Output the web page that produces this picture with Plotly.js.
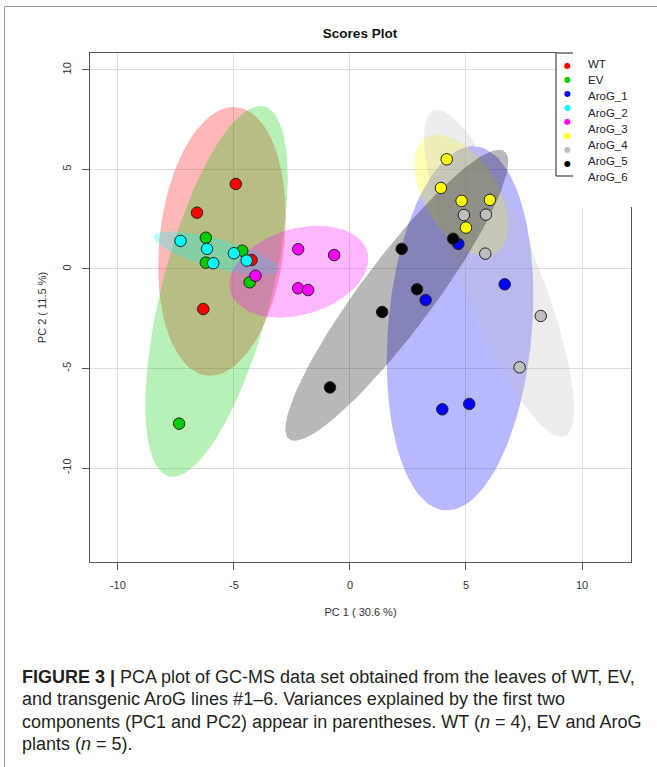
<!DOCTYPE html>
<html>
<head>
<meta charset="utf-8">
<script src="https://cdn.plot.ly/plotly-3.0.1.min.js"></script>
<style>
  html, body { margin: 0; padding: 0; background: #fff; }
  #chart { width: 657px; height: 767px; }
</style>
</head>
<body>
<div id="chart"></div>
<script>
// ---- data (PC1, PC2 scores) ----
const groupNames = ["WT", "EV", "AroG_1", "AroG_2", "AroG_3", "AroG_4", "AroG_5", "AroG_6"];

const WT_PC1 = [-4.92, -6.59, -4.24, -6.32];
const WT_PC2 = [4.27, 2.83, 0.45, -2.01];

const EV_PC1 = [-6.21, -6.21, -4.64, -4.32, -7.36];
const EV_PC2 = [1.57, 0.32, 0.92, -0.67, -7.77];

const AroG1_PC1 = [4.67, 3.26, 6.67, 5.14, 3.98];
const AroG1_PC2 = [1.26, -1.56, -0.77, -6.78, -7.05];

const AroG2_PC1 = [-7.30, -6.16, -5.89, -5.00, -4.45];
const AroG2_PC2 = [1.41, 1.01, 0.29, 0.79, 0.42];

const AroG3_PC1 = [-4.07, -2.23, -2.23, -1.80, -0.68];
const AroG3_PC2 = [-0.34, 0.99, -0.97, -1.06, 0.70];

const AroG4_PC1 = [4.17, 3.92, 4.81, 6.03, 5.00];
const AroG4_PC2 = [5.51, 4.07, 3.42, 3.47, 2.08];

const AroG5_PC1 = [4.91, 5.86, 5.83, 8.22, 7.31];
const AroG5_PC2 = [2.71, 2.73, 0.77, -2.36, -4.94];

const AroG6_PC1 = [4.45, 2.23, 2.89, 1.39, -0.86];
const AroG6_PC2 = [1.52, 1.01, -1.02, -2.16, -5.95];

const tickValues = [-10, -5, 0, 5, 10];
const tickLabels = ["-10", "-5", "0", "5", "10"];

const captionLines = [
  "<b>FIGURE 3 |</b> PCA plot of GC-MS data set obtained from the leaves of WT, EV,",
  "and transgenic AroG lines #1–6. Variances explained by the first two",
  "components (PC1 and PC2) appear in parentheses. WT (<i>n</i> = 4), EV and AroG",
  "plants (<i>n</i> = 5)."
];

// ---- styling ----
const groupColors = ["#FF0000", "#00CD00", "#0000FF", "#00FFFF", "#FF00FF", "#FFFF00", "#BEBEBE", "#000000"];
const fillAlpha = 0.28;

const groupX = [WT_PC1, EV_PC1, AroG1_PC1, AroG2_PC1, AroG3_PC1, AroG4_PC1, AroG5_PC1, AroG6_PC1];
const groupY = [WT_PC2, EV_PC2, AroG1_PC2, AroG2_PC2, AroG3_PC2, AroG4_PC2, AroG5_PC2, AroG6_PC2];

function hexToRgba(hex, a) {
  const r = parseInt(hex.slice(1, 3), 16), g = parseInt(hex.slice(3, 5), 16), b = parseInt(hex.slice(5, 7), 16);
  return `rgba(${r},${g},${b},${a})`;
}

// 95% confidence ellipse as in R's ellipse package
function ellipse95(xs, ys) {
  const n = xs.length;
  const mx = xs.reduce((s, v) => s + v, 0) / n;
  const my = ys.reduce((s, v) => s + v, 0) / n;
  let sxx = 0, syy = 0, sxy = 0;
  for (let i = 0; i < n; i++) {
    sxx += (xs[i] - mx) ** 2;
    syy += (ys[i] - my) ** 2;
    sxy += (xs[i] - mx) * (ys[i] - my);
  }
  sxx /= (n - 1); syy /= (n - 1); sxy /= (n - 1);
  const sx = Math.sqrt(sxx), sy = Math.sqrt(syy);
  const r = Math.max(-1, Math.min(1, sxy / (sx * sy)));
  const d = Math.acos(r);
  const t = Math.sqrt(5.991464547);
  const ex = [], ey = [];
  const np = 100;
  for (let k = 0; k < np; k++) {
    const a = 2 * Math.PI * k / (np - 1);
    ex.push(t * sx * Math.cos(a + d / 2) + mx);
    ey.push(t * sy * Math.cos(a - d / 2) + my);
  }
  return { x: ex, y: ey };
}

const traces = [];
groupNames.forEach((name, i) => {
  const e = ellipse95(groupX[i], groupY[i]);
  traces.push({
    type: "scatter", mode: "lines", x: e.x, y: e.y,
    fill: "toself", fillcolor: hexToRgba(groupColors[i], fillAlpha),
    line: { width: 0, color: "rgba(0,0,0,0)" },
    hoverinfo: "skip", showlegend: false
  });
});
groupNames.forEach((name, i) => {
  traces.push({
    type: "scatter", mode: "markers", name: name,
    x: groupX[i], y: groupY[i],
    marker: { size: 11.5, color: groupColors[i], line: { color: "#222", width: 1 } },
    showlegend: false
  });
});

// pixel -> paper helpers (plot area: x 90..631, y 53..562)
const L = 90, R = 631, T = 53, B = 562;
const px = v => (v - L) / (R - L);
const py = v => (B - v) / (B - T);

const annotations = [];
// legend entries (manual, R-style)
const legendTextY = [64, 80.2, 96.4, 112.6, 128.8, 145, 161.2, 177.4];
const legendDotY = [65.5, 79.5, 93.5, 107.5, 121.5, 135.5, 149.5, 163.5];
groupNames.forEach((name, i) => {
  annotations.push({
    xref: "paper", yref: "paper", x: px(586), y: py(legendTextY[i]),
    xanchor: "left", yanchor: "middle", showarrow: false,
    text: name, font: { family: "Liberation Sans, Arial, sans-serif", size: 11.5, color: "#222" }
  });
  annotations.push({
    xref: "paper", yref: "paper", x: px(567), y: py(legendDotY[i]),
    xanchor: "center", yanchor: "middle", showarrow: false,
    text: "●", font: { family: "DejaVu Sans, sans-serif", size: 8, color: groupColors[i] }
  });
});
// caption lines
const captionY = [676.5, 699, 721.5, 744];
captionLines.forEach((ln, i) => {
  annotations.push({
    xref: "paper", yref: "paper", x: px(20), y: py(captionY[i]),
    xanchor: "left", yanchor: "middle", showarrow: false, align: "left",
    text: ln, font: { family: "Liberation Sans, Arial, sans-serif", size: 18, color: "#231f20" }
  });
});

const shapes = [
  // outer figure frame
  { type: "rect", xref: "paper", yref: "paper", x0: px(4.5), x1: px(660), y0: py(6.5), y1: py(770),
    line: { color: "#9a9a9a", width: 1 }, fillcolor: "rgba(0,0,0,0)", layer: "below" },
  // white legend area (covers plot border top-right)
  { type: "rect", xref: "paper", yref: "paper", x0: px(556), x1: px(650), y0: py(52), y1: py(176),
    line: { width: 0 }, fillcolor: "#fff", layer: "above" },
  { type: "rect", xref: "paper", yref: "paper", x0: px(573), x1: px(650), y0: py(40), y1: py(207),
    line: { width: 0 }, fillcolor: "#fff", layer: "above" },
  // legend bracket
  { type: "line", xref: "paper", yref: "paper", x0: px(556), x1: px(556), y0: py(52.5), y1: py(176),
    line: { color: "#444", width: 1.2 }, layer: "above" },
  { type: "line", xref: "paper", yref: "paper", x0: px(556), x1: px(573), y0: py(176), y1: py(176),
    line: { color: "#444", width: 1.2 }, layer: "above" },
  { type: "line", xref: "paper", yref: "paper", x0: px(556), x1: px(573), y0: py(53), y1: py(53),
    line: { color: "#444", width: 1.2 }, layer: "above" }
];

const axisFont = { family: "Liberation Sans, Arial, sans-serif", size: 11, color: "#333" };

const layout = {
  width: 657, height: 767,
  margin: { l: L, r: 657 - R, t: T, b: 767 - B, pad: 0 },
  paper_bgcolor: "rgba(0,0,0,0)", plot_bgcolor: "#fff",
  showlegend: false,
  title: {
    text: "<b>Scores Plot</b>",
    font: { family: "Liberation Sans, Arial, sans-serif", size: 13.5, color: "#111" },
    x: px(360), xref: "paper", xanchor: "center",
    y: 1 - 33 / 767, yref: "container", yanchor: "middle"
  },
  xaxis: {
    range: [-11.2, 12.11], tickvals: tickValues, ticktext: tickLabels,
    ticks: "outside", ticklen: 7, tickwidth: 1, tickcolor: "#555",
    showline: true, linecolor: "#555", linewidth: 1.3, mirror: true,
    showgrid: true, gridcolor: "#dedede", gridwidth: 1, zeroline: false,
    tickfont: axisFont, ticklabelstandoff: 5,
    title: { text: "PC 1 ( 30.6 %)", font: axisFont, standoff: 18 }
  },
  yaxis: {
    range: [-14.72, 10.85], tickvals: tickValues, ticktext: tickLabels,
    ticks: "outside", ticklen: 7, tickwidth: 1, tickcolor: "#555", tickangle: -90,
    showline: true, linecolor: "#555", linewidth: 1.3, mirror: true,
    showgrid: true, gridcolor: "#dedede", gridwidth: 1, zeroline: false,
    tickfont: axisFont, ticklabelstandoff: 6,
    title: { text: "PC 2 ( 11.5 %)", font: axisFont, standoff: 12 }
  },
  annotations: annotations,
  shapes: shapes
};

Plotly.newPlot("chart", traces, layout, { staticPlot: true, displayModeBar: false });
</script>
</body>
</html>
